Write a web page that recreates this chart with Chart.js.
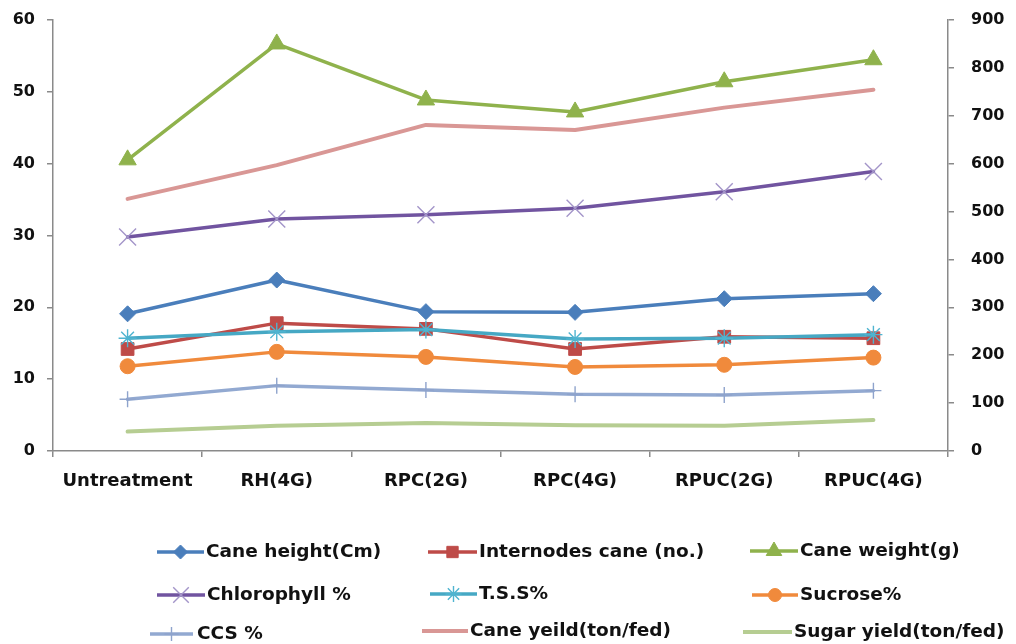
<!DOCTYPE html>
<html>
<head>
<meta charset="utf-8">
<script src="https://cdn.jsdelivr.net/npm/chart.js@4/dist/chart.umd.min.js"></script>
<style>
  html, body { margin: 0; padding: 0; background: #ffffff; }
  #wrap { width: 1016px; height: 644px; }
</style>
</head>
<body>
<div id="wrap"><canvas id="c" width="1016" height="644"></canvas></div>
<script>
// Treatments along the x axis
const categories = ['Untreatment', 'RH(4G)', 'RPC(2G)', 'RPC(4G)', 'RPUC(2G)', 'RPUC(4G)'];

// Series values (left axis unless noted)
const caneHeight  = [19.1, 23.8, 19.4, 19.3, 21.2, 21.9];
const internodes  = [14.2, 17.8, 17.0, 14.2, 15.9, 15.7];
const caneWeight  = [608, 850, 733, 708, 771, 817];   // right axis (g)
const chlorophyll = [29.8, 32.3, 32.9, 33.8, 36.1, 38.9];
const tss         = [15.7, 16.6, 16.9, 15.6, 15.7, 16.2];
const sucrose     = [11.8, 13.8, 13.1, 11.7, 12.0, 13.0];
const ccs         = [7.2, 9.1, 8.5, 7.9, 7.8, 8.4];
const caneYield   = [35.1, 39.8, 45.4, 44.7, 47.8, 50.3];
const sugarYield  = [2.7, 3.5, 3.9, 3.6, 3.5, 4.3];

// Axis ranges
const leftTicks  = { max: 60, step: 10 };
const rightTicks = { max: 900, step: 100 };

const FONT = "'DejaVu Sans', 'Open Sans', sans-serif";
const AXIS = '#8a8a8a';

function series(label, data, color, marker, extra) {
  return Object.assign({
    label: label,
    data: data,
    borderColor: color,
    backgroundColor: color,
    pointBackgroundColor: color,
    pointBorderColor: color,
    borderWidth: 3.5,
    borderJoinStyle: 'round',
    borderCapStyle: 'round',
    pointStyle: marker || false,
    pointRadius: marker ? 7 : 0,
    pointBorderWidth: 1,
    tension: 0,
    yAxisID: 'y'
  }, extra || {});
}

const datasets = [
  series('Cane height(Cm)', caneHeight, '#4a7ebb', 'rectRot', { pointRadius: 8 }),
  series('Internodes cane (no.)', internodes, '#be4b48', 'rect', { pointRadius: 9 }),
  series('Cane weight(g)', caneWeight, '#8fb24c', 'triangle', { pointRadius: 10, yAxisID: 'y1' }),
  series('Chlorophyll %', chlorophyll, '#7154a0', 'crossRot', { pointRadius: 12, pointBorderWidth: 1.4, pointBorderColor: '#a395c9' }),
  series('T.S.S%', tss, '#46a8c4', 'star', { pointRadius: 9, pointBorderWidth: 1.4, pointBorderColor: '#4fb4d0' }),
  series('Sucrose%', sucrose, '#f08a3c', 'circle', { pointRadius: 7.5 }),
  series('CCS %', ccs, '#92a9d1', 'cross', { pointRadius: 8, pointBorderWidth: 1.4, pointBorderColor: '#8ea3cc' }),
  series('Cane yeild(ton/fed)', caneYield, '#d99795', false, { borderWidth: 4 }),
  series('Sugar yield(ton/fed)', sugarYield, '#b6cd92', false, { borderWidth: 4 })
];
// later series sit on top of earlier ones
datasets.forEach((d, i) => { d.order = -i; });

// Legend grid: [lineStart, lineEnd, textX, centerY] per entry, same order as datasets
const legendSlots = [
  [157, 204, 206, 552], [428, 477, 479, 552], [750, 798, 800, 551],
  [157, 205, 207, 595], [430, 477, 479, 594], [752, 798, 800, 595],
  [150, 193, 197, 634], [422, 468, 470, 631], [743, 792, 794, 632]
];

const legendPlugin = {
  id: 'gridLegend',
  afterDraw(chart) {
    const ctx = chart.ctx;
    ctx.save();
    chart.data.datasets.forEach((ds, i) => {
      const [x0, x1, tx, y] = legendSlots[i];
      ctx.strokeStyle = ds.borderColor;
      ctx.lineWidth = ds.borderWidth;
      ctx.lineCap = 'butt';
      ctx.beginPath();
      ctx.moveTo(x0, y);
      ctx.lineTo(x1, y);
      ctx.stroke();
      if (ds.pointStyle && Chart.helpers && Chart.helpers.drawPoint) {
        ctx.fillStyle = ds.pointBackgroundColor;
        ctx.strokeStyle = ds.pointBorderColor;
        ctx.lineWidth = ds.pointBorderWidth;
        Chart.helpers.drawPoint(ctx, {
          pointStyle: ds.pointStyle,
          radius: ds.pointRadius - 1,
          rotation: 0,
          borderWidth: ds.pointBorderWidth
        }, (x0 + x1) / 2, y);
      }
      ctx.fillStyle = '#111111';
      ctx.font = 'bold 18.5px ' + FONT;
      ctx.textBaseline = 'middle';
      ctx.textAlign = 'left';
      ctx.fillText(ds.label, tx, y);
    });
    ctx.restore();
  }
};

new Chart(document.getElementById('c'), {
  type: 'line',
  data: { labels: categories, datasets: datasets },
  plugins: [legendPlugin],
  options: {
    responsive: false,
    animation: false,
    devicePixelRatio: 1,
    layout: { autoPadding: false, padding: { top: 20, left: 0, right: 0, bottom: 0 } },
    plugins: { legend: { display: false }, tooltip: { enabled: false } },
    scales: {
      x: {
        type: 'category',
        offset: true,
        grid: { display: true, offset: true, drawOnChartArea: false, drawTicks: true, tickLength: 6, color: AXIS, lineWidth: 1.5 },
        border: { display: true, color: AXIS, width: 1.5 },
        ticks: { color: '#111111', font: { family: FONT, size: 18, weight: 'bold' }, padding: 14, maxRotation: 0 },
        afterFit(scale) { scale.height = 193; }
      },
      y: {
        position: 'left',
        min: 0, max: leftTicks.max,
        grid: { drawOnChartArea: false, drawTicks: true, tickLength: 6, color: AXIS, lineWidth: 1.5 },
        border: { display: true, color: AXIS, width: 1.5 },
        ticks: { stepSize: leftTicks.step, color: '#111111', font: { family: FONT, size: 16, weight: 'bold', lineHeight: 0.2 }, padding: 12 },
        afterFit(scale) { scale.width = 53; }
      },
      y1: {
        position: 'right',
        min: 0, max: rightTicks.max,
        grid: { drawOnChartArea: false, drawTicks: true, tickLength: 6, color: AXIS, lineWidth: 1.5 },
        border: { display: true, color: AXIS, width: 1.5 },
        ticks: { stepSize: rightTicks.step, color: '#111111', font: { family: FONT, size: 16, weight: 'bold', lineHeight: 0.2 }, padding: 17 },
        afterFit(scale) { scale.width = 68; }
      }
    }
  }
});
</script>
</body>
</html>
